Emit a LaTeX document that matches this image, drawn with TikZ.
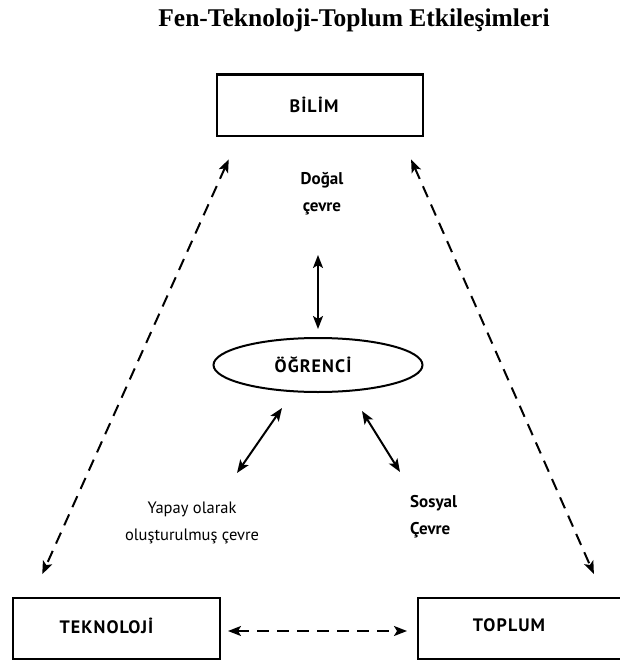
\documentclass[tikz,border=0pt]{standalone}
\usepackage{fontspec}
\setmainfont{Liberation Serif}
\newfontfamily\labelfont[LetterSpace=6]{PT Sans}
\newfontfamily\envfont{PT Sans}
\usetikzlibrary{arrows.meta,shapes.geometric}
\tikzset{
  box/.style={draw, line width=2pt, minimum height=61pt, inner sep=0pt},
  boxtext/.style={font=\labelfont\bfseries\fontsize{18}{20}\selectfont},
  envtext/.style={font=\envfont\bfseries\fontsize{17}{27}\selectfont, inner sep=0pt},
  twoarrow/.style={line width=2pt, {Stealth[length=13pt,width=10pt,inset=3pt]}-{Stealth[length=13pt,width=10pt,inset=3pt]}},
  dasharrow/.style={twoarrow, dash pattern=on 12pt off 8pt}
}

\begin{document}
\begin{tikzpicture}[x=1pt, y=-1pt]
		\useasboundingbox (0, 0) rectangle (619, 661);
		%%%%% TITLE %%%%%
		\node[font=\bfseries\fontsize{25.5}{30}\selectfont] (title) at (354, 20) {Fen-Teknoloji-Toplum Etkileşimleri};
		
		%%%%% BOXES %%%%%
		\node[box, minimum width=206pt, label={[boxtext, xshift=-6pt]center:BİLİM}] (bilim) at (320, 105) {};
		\node[box, minimum width=207pt, label={[boxtext, xshift=-10pt, yshift=3pt]center:TEKNOLOJİ}] (tekno) at (116.5, 628.5) {};
		\node[box, minimum width=212pt, label={[boxtext, xshift=-15pt, yshift=3pt]center:TOPLUM}] (toplum) at (524, 628.5) {};
		
		\node[draw, ellipse, line width=2pt, minimum width=209pt, minimum height=54pt, inner sep=0pt, label={[boxtext, xshift=-5pt]center:ÖĞRENCİ}] (ogrenci) at (318, 365) {};
		
		%%%%% ENVIRONMENTS %%%%%
		\node[envtext, align=center] (dogal) at (322, 194) {Doğal\\çevre};
		\node[envtext, align=center, font=\envfont\fontsize{16.5}{27}\selectfont] (yapay) at (192, 523) {Yapay olarak\\oluşturulmuş çevre};
		\node[envtext, align=left, anchor=west] (sosyal) at (410, 517) {Sosyal\\Çevre};
		
		\coordinate (dogaltip) at (318, 255);
		\coordinate (yapaytip) at (237, 473);
		\coordinate (sosyaltip) at (400, 472);
		
		%%%%% ARROWS %%%%%
		\draw[dasharrow, shorten <=25pt, shorten >=25pt] ([xshift=23pt]bilim.south west) -- ([xshift=20pt]tekno.north west);
		\draw[dasharrow, shorten <=25pt, shorten >=25pt] ([xshift=-23pt]bilim.south east) -- ([xshift=80pt]toplum.north);
		\draw[dasharrow, shorten <=7pt, shorten >=10pt] (tekno.east |- 0, 631) -- (toplum.west |- 0, 631);
		
		\draw[twoarrow] ([yshift=8pt]ogrenci.north) -- (dogaltip);
		\draw[twoarrow] ([xshift=-36pt, yshift=-15pt]ogrenci.south) -- (yapaytip);
		\draw[twoarrow] ([xshift=44pt, yshift=-18pt]ogrenci.south) -- (sosyaltip);
	\end{tikzpicture}
\end{document}
